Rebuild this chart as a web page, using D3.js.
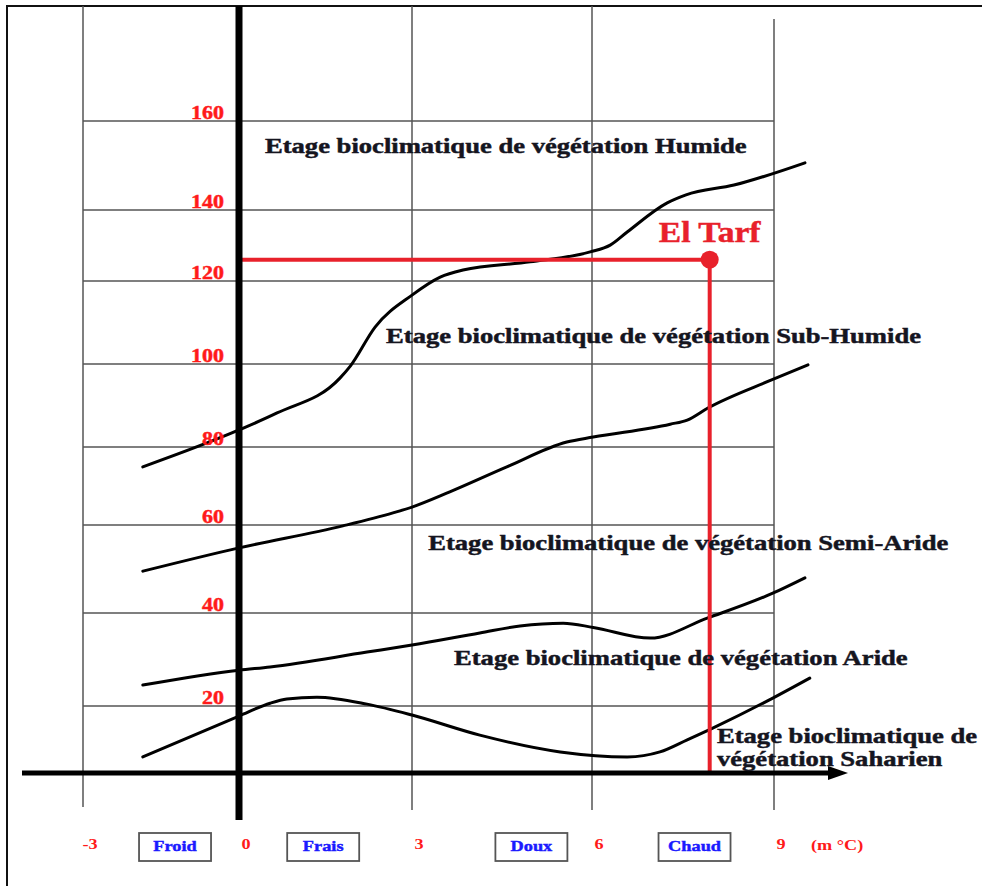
<!DOCTYPE html>
<html>
<head>
<meta charset="utf-8">
<script src="https://cdn.jsdelivr.net/npm/d3@7"></script>
<style>
body{margin:0;background:#fff;}
text{font-family:"Liberation Serif","Times New Roman",serif;font-weight:bold;stroke-width:0.45px;}
</style>
</head>
<body>
<svg id="chart"></svg>
<script>
var W = 982, H = 886;

//axis ticks: m (°C) and Q2
var mTicks = [-3,0,3,6,9];
var q2Ticks = [0,20,40,60,80,100,120,140,160];
var classes = ['Froid','Frais','Doux','Chaud'];
var zones = ['Humide','Sub-Humide','Semi-Aride','Aride','Saharien'];

//limits between the stages, as [m, Q2] pairs
var limitHumide = [[-1.85,74.9],[0,84.1],[0.66,88.2],[1.75,96.6],[1.93,99.5],[2.36,108.9],[3.0,116.6],[3.47,121.1],[3.85,123.1],[4.97,125.4],[5.97,128.2],[6.30,130.1],[6.58,133.8],[7.24,141.6],[7.55,143.4],[8.34,145.6],[9.51,150.6]];
var limitSubHumide = [[-1.85,49.5],[0,54.8],[1.80,59.8],[2.67,63.1],[3.0,64.6],[3.63,68.5],[4.58,74.9],[5.58,81.2],[6.02,82.4],[7.29,85.5],[7.57,86.5],[7.91,89.4],[8.95,96.1],[9.56,99.8]];
var limitSemiAride = [[-1.85,24.5],[0,27.7],[0.54,28.4],[2.22,31.6],[3.0,33.1],[4.13,35.7],[4.80,37.2],[5.52,37.8],[6.02,36.9],[6.96,34.6],[7.90,38.9],[8.98,44.5],[9.51,48.0]];
var limitAride = [[-1.85,4.8],[0,17.0],[0.54,20.6],[0.83,21.5],[1.35,21.9],[2.22,20.4],[3.0,17.3],[4.13,11.3],[5.47,6.3],[6.58,4.8],[7.12,6.3],[7.57,9.9],[7.99,13.4],[8.98,21.7],[9.59,26.0]];

var station = {name:'El Tarf', m:7.94, q2:126};

//the original drawing is hand made: grid spacing is not regular, so piecewise scales
var x = d3.scaleLinear().domain(mTicks).range([83,239,412,592,774]);
var y = d3.scaleLinear().domain(q2Ticks).range([773,706,613,525,447,364,281,210,121]);

var svg = d3.select('#chart').attr('width',W).attr('height',H);
svg.append('rect').attr('width',W).attr('height',H).attr('fill','#fff');

//frame (left + top)
svg.append('path')
	.attr('d','M7,886V6H982')
	.attr('fill','none').attr('stroke','#111').attr('stroke-width',2);

//grid
var GRID = '#555';
svg.selectAll('.grid-v')
	.data(mTicks.filter(function(d){return d!==0}))
	.enter().append('line').attr('class','grid-v')
	.attr('x1',function(d){return x(d)}).attr('x2',function(d){return x(d)})
	.attr('y1',function(d){return d===9 ? 19 : 6})
	.attr('y2',function(d){return d===-3 ? 807 : 810})
	.attr('stroke',GRID).attr('stroke-width',1.5);

svg.selectAll('.grid-h')
	.data(q2Ticks.filter(function(d){return d>0}))
	.enter().append('line').attr('class','grid-h')
	.attr('x1',x(-3)).attr('x2',x(9))
	.attr('y1',function(d){return y(d)}).attr('y2',function(d){return y(d)})
	.attr('stroke',GRID).attr('stroke-width',1.5);

//stage limits
var line = d3.line()
	.x(function(d){return x(d[0])})
	.y(function(d){return y(d[1])})
	.curve(d3.curveMonotoneX);

svg.selectAll('.limit')
	.data([limitHumide,limitSubHumide,limitSemiAride,limitAride])
	.enter().append('path').attr('class','limit')
	.attr('d',line)
	.attr('fill','none').attr('stroke','#000').attr('stroke-width',3)
	.attr('stroke-linecap','round');

//station lines
var RED = '#e8212b';
svg.append('line')
	.attr('x1',x(0)).attr('x2',x(station.m))
	.attr('y1',y(station.q2)).attr('y2',y(station.q2))
	.attr('stroke',RED).attr('stroke-width',4);
svg.append('line')
	.attr('x1',x(station.m)).attr('x2',x(station.m))
	.attr('y1',y(station.q2)).attr('y2',y(0))
	.attr('stroke',RED).attr('stroke-width',4);

//thick axes
svg.append('line')
	.attr('x1',x(0)).attr('x2',x(0)).attr('y1',6).attr('y2',820)
	.attr('stroke','#000').attr('stroke-width',7);
svg.append('line')
	.attr('x1',22).attr('x2',832).attr('y1',y(0)).attr('y2',y(0))
	.attr('stroke','#000').attr('stroke-width',5);
svg.append('path')
	.attr('d','M828,'+(y(0)-7)+'L848,'+y(0)+'L828,'+(y(0)+7)+'Z')
	.attr('fill','#000');

svg.append('circle')
	.attr('cx',x(station.m)).attr('cy',y(station.q2)).attr('r',9)
	.attr('fill',RED);

//stretch text horizontally like the scanned original
function stretch(sel,k){
	sel.each(function(){
		var w = this.getComputedTextLength();
		d3.select(this).attr('textLength',w*k).attr('lengthAdjust','spacingAndGlyphs');
	});
}

//Q2 labels
svg.selectAll('.q2-label')
	.data(q2Ticks.filter(function(d){return d>0}))
	.enter().append('text').attr('class','q2-label')
	.attr('x',x(0)-15).attr('y',function(d){return y(d)-2})
	.attr('text-anchor','end').attr('font-size',18)
	.attr('fill','#ff1a1a').attr('stroke','#ff1a1a')
	.text(function(d){return d})
	.call(stretch,1.22);

//m labels below
svg.selectAll('.m-label')
	.data(mTicks)
	.enter().append('text').attr('class','m-label')
	.attr('x',function(d){return x(d)+7}).attr('y',849)
	.attr('text-anchor','middle').attr('font-size',14).attr('fill','#ff1a1a')
	.text(function(d){return d})
	.call(stretch,1.3);
svg.append('text')
	.attr('x',x(9)+37).attr('y',850)
	.attr('font-size',14).attr('fill','#ff1a1a')
	.text('(m °C)')
	.call(stretch,1.3);

//winter classes
var classAt = [-1.23,1.46,4.99,7.69];
var cls = svg.selectAll('.cls')
	.data(classes)
	.enter().append('g').attr('class','cls')
	.attr('transform',function(d,i){return 'translate('+x(classAt[i])+',847)'});
cls.append('rect')
	.attr('x',-36).attr('y',-14).attr('width',72).attr('height',28)
	.attr('fill','#fff').attr('stroke','#555').attr('stroke-width',1.8);
cls.append('text')
	.attr('text-anchor','middle').attr('y',4).attr('font-size',15)
	.attr('fill','#1a1aff').attr('stroke','#1a1aff').attr('stroke-width',0.3)
	.text(function(d){return d})
	.call(stretch,1.22);

//stage names
var zoneAt = [[0.45,152.8],[2.55,105.1],[3.27,54.3],[3.7,28.8],[8.06,9.0]];
zones.forEach(function(z,i){
	var lines = z==='Saharien'
		? ['Etage bioclimatique de','végétation '+z]
		: ['Etage bioclimatique de végétation '+z];
	lines.forEach(function(t,j){
		svg.append('text')
			.attr('x',x(zoneAt[i][0])).attr('y',y(zoneAt[i][1])+j*23)
			.attr('font-size',20).attr('fill','#15151f').attr('stroke','#15151f')
			.text(t)
			.call(stretch,1.33);
	});
});

svg.append('text')
	.attr('x',x(station.m)).attr('y',y(station.q2)-18)
	.attr('text-anchor','middle').attr('font-size',30)
	.attr('fill',RED).attr('stroke',RED)
	.text(station.name)
	.call(stretch,1.12);
</script>
</body>
</html>
